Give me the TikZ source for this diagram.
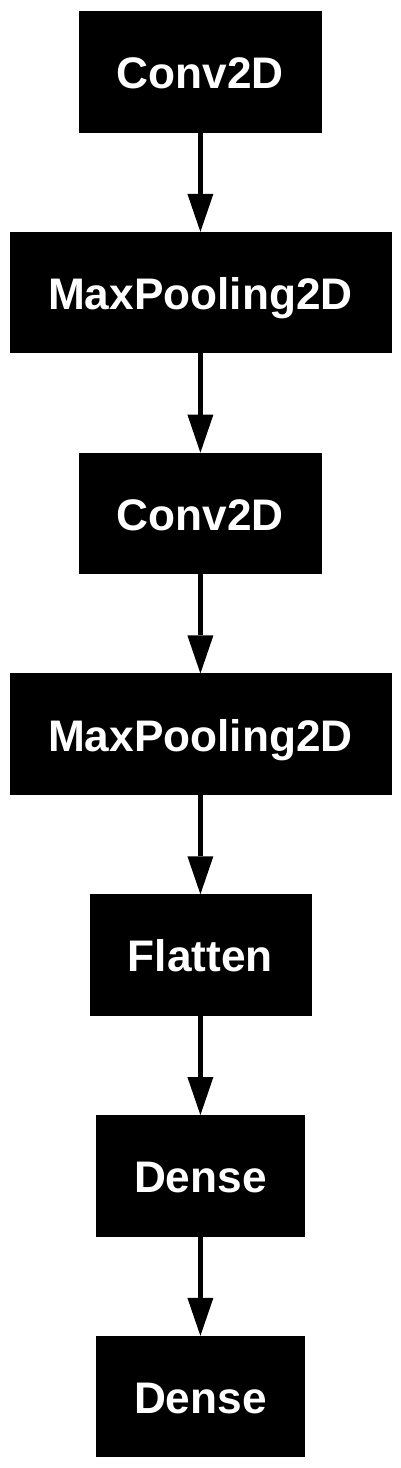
\documentclass[tikz,border=0pt]{standalone}
\usepackage{fontspec}
\setmainfont{Liberation Sans}
\usetikzlibrary{arrows.meta}
\tikzset{
  layer/.style={rectangle, fill=black, draw=black, line width=0.5pt, text=white,
    font=\fontsize{44.2}{50}\selectfont\bfseries, inner sep=0pt,
    minimum height=120.6pt, text height=34pt, text depth=0pt},
  flow/.style={line width=5pt, -{Triangle[length=38pt, width=26pt, line width=0pt 0]}}
}
\begin{document}
\begin{tikzpicture}[x=1pt, y=-1pt]
\useasboundingbox (0,0) rectangle (401,1468);
\node[layer, minimum width=241.7pt] (c1) at (200.4,71.6) {Conv2D};
\node[layer, minimum width=380.7pt] (p1) at (200.4,292.4) {MaxPooling2D};
\node[layer, minimum width=241.7pt] (c2) at (200.4,513.2) {Conv2D};
\node[layer, minimum width=380.7pt] (p2) at (200.4,734.0) {MaxPooling2D};
\node[layer, minimum width=220.7pt] (fl) at (200.4,954.8) {Flatten};
\node[layer, minimum width=208.3pt] (d1) at (200.4,1175.6) {Dense};
\node[layer, minimum width=208.3pt] (d2) at (200.4,1396.4) {Dense};
\foreach \a/\b in {c1/p1, p1/c2, c2/p2, p2/fl, fl/d1, d1/d2}
  \draw[flow] (\a.south) -- (\b.north);
\end{tikzpicture}
\end{document}
